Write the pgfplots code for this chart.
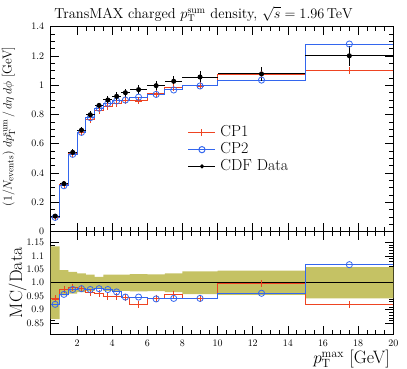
\documentclass[border=0pt]{standalone}
\usepackage{pgfplots}
\usepackage{pgfplotstable}
\pgfplotsset{compat=1.18}
\definecolor{cpred}{RGB}{238,68,34}
\definecolor{cpblue}{RGB}{51,102,238}
\definecolor{bandc}{RGB}{197,194,100}

\pgfplotstableread{
x     ex    d      ed     c1      c2      r1     r2
0.75  0.25  0.105  0.014  0.0987  0.0966  0.940  0.920
1.25  0.25  0.327  0.015  0.3188  0.3129  0.975  0.957
1.75  0.25  0.541  0.022  0.5323  0.5275  0.984  0.975
2.25  0.25  0.693  0.024  0.6778  0.6778  0.978  0.978
2.75  0.25  0.798  0.024  0.7685  0.7781  0.963  0.975
3.25  0.25  0.862  0.019  0.8284  0.8430  0.961  0.978
3.75  0.25  0.899  0.027  0.8540  0.8765  0.950  0.975
4.25  0.25  0.924  0.028  0.8778  0.8926  0.950  0.966
4.75  0.25  0.949  0.028  0.8987  0.8987  0.947  0.947
5.5   0.5   0.970  0.031  0.8924  0.9186  0.920  0.947
6.5   0.5   0.997  0.031  0.9402  0.9372  0.943  0.940
7.5   0.5   1.027  0.036  0.9839  0.9674  0.958  0.942
9     1     1.056  0.044  0.9948  0.9948  0.942  0.942
12.5  2.5   1.077  0.048  1.0748  1.0350  0.998  0.961
17.5  2.5   1.201  0.070  1.1037  1.2815  0.919  1.067
}\datatab

\pgfplotsset{rivet/.style={
  width=342.5bp, scale only axis,
  xmin=0.5, xmax=20,
  tick align=inside,
  major tick length=8bp, minor tick length=4bp,
  xtick={2,4,...,20}, minor x tick num=3,
  axis line style={line width=0.6bp},
  every tick/.style={black, line width=0.5bp},
  tick label style={font=\fontsize{10}{12}\selectfont},
  yticklabel style={xshift=-3bp},
  xticklabel style={yshift=-3bp},
}}

\begin{document}
\begin{tikzpicture}
\useasboundingbox (-50.75bp,-35bp) rectangle (356.25bp,334bp);
% ---------------- ratio panel
\begin{axis}[rivet,
  at={(0,0)}, anchor=south west,
  height=102.5bp,
  ymin=0.81, ymax=1.19,
  ytick={0.85,0.9,0.95,1.0,1.05,1.1,1.15},
  yticklabels={0.85,0.9,0.95,1.0,1.05,1.1,1.15},
  minor y tick num=4,
  xlabel={$p_{\mathrm{T}}^{\mathrm{max}}$ [GeV]},
  xlabel style={font=\fontsize{18}{20}\selectfont, at={(1,-0.29)}, anchor=base east},
  ylabel={MC/Data},
  ylabel style={font=\fontsize{18}{20}\selectfont, at={(-0.097,0.5)}, anchor=center},
]
\addplot[fill=bandc, draw=none, forget plot] coordinates {
(0.5,1.135)(1,1.135)(1,1.047)(1.5,1.047)(1.5,1.04)(2,1.04)(2,1.035)(2.5,1.035)(2.5,1.03)(3,1.03)(3,1.022)(3.5,1.022)(3.5,1.03)(4,1.03)(4.5,1.03)(5,1.03)(5,1.032)(6,1.032)(6,1.031)(7,1.031)(7,1.035)(8,1.035)(8,1.042)(10,1.042)(10,1.045)(15,1.045)(15,1.058)(20,1.058)
(20,0.942)(15,0.942)(15,0.955)(10,0.955)(10,0.958)(8,0.958)(8,0.965)(7,0.965)(7,0.969)(6,0.969)(6,0.968)(5,0.968)(5,0.97)(4.5,0.97)(4,0.97)(3.5,0.97)(3.5,0.978)(3,0.978)(3,0.97)(2.5,0.97)(2.5,0.965)(2,0.965)(2,0.96)(1.5,0.96)(1.5,0.953)(1,0.953)(1,0.865)(0.5,0.865)} -- cycle;
\addplot[black, line width=0.6bp, forget plot] coordinates {(0.5,1)(20,1)};
\addplot[cpred, line width=1bp, const plot mark left, forget plot] coordinates {
(0.5,0.940)(1,0.975)(1.5,0.984)(2,0.978)(2.5,0.963)(3,0.961)(3.5,0.950)(4,0.950)(4.5,0.947)(5,0.920)(6,0.943)(7,0.958)(8,0.942)(10,0.998)(15,0.919)(20,0.919)};
\addplot[cpblue, line width=1bp, const plot mark left, forget plot] coordinates {
(0.5,0.920)(1,0.957)(1.5,0.975)(2,0.978)(2.5,0.975)(3,0.978)(3.5,0.975)(4,0.966)(4.5,0.947)(5,0.947)(6,0.940)(7,0.942)(8,0.942)(10,0.961)(15,1.067)(20,1.067)};
\addplot[only marks, cpred, mark=+, mark size=3.5bp, line width=0.8bp, forget plot] table[x=x, y=r1] {\datatab};
\addplot[only marks, cpblue, mark=o, mark size=3.1bp, mark options={fill=white}, line width=0.8bp, forget plot] table[x=x, y=r2] {\datatab};
\end{axis}
% ---------------- main panel
\begin{axis}[rivet,
  at={(0,102.5bp)}, anchor=south west,
  height=204.8bp,
  ymin=0, ymax=1.4,
  ytick={0,0.2,...,1.4},
  minor y tick num=3,
  xticklabel=\empty,
  title={TransMAX charged $p_{\mathrm{T}}^{\mathrm{sum}}$ density, $\sqrt{s} = 1.96\,\mathrm{TeV}$},
  title style={font=\fontsize{14.5}{17}\selectfont, at={(0,1)}, anchor=base west, yshift=2.5bp},
  ylabel={$(1/N_{\mathrm{events}})\; dp_{\mathrm{T}}^{\mathrm{sum}}\,/\,d\eta\, d\phi$ [GeV]},
  ylabel style={font=\fontsize{13}{15}\selectfont, at={(-0.1234,0.513)}, anchor=center},
  legend style={at={(0.4,0.52)}, anchor=north west, draw=none, fill=none,
    font=\fontsize{16}{16}\selectfont, row sep=1.2bp, column sep=4bp,
    inner sep=0pt, nodes={inner sep=0.5bp, text height=11bp, text depth=3.5bp},
    cells={anchor=west}},
  legend image code/.code={\draw[mark repeat=2, mark phase=2, #1] plot coordinates {(0bp,0bp)(13.5bp,0bp)(27bp,0bp)};},
]
\addplot[cpred, line width=1bp, const plot mark left, forget plot] coordinates {
(0.5,0.0987)(1,0.3188)(1.5,0.5323)(2,0.6778)(2.5,0.7685)(3,0.8284)(3.5,0.8540)(4,0.8778)(4.5,0.8987)(5,0.8924)(6,0.9402)(7,0.9839)(8,0.9948)(10,1.0748)(15,1.1037)(20,1.1037)};
\addplot[cpblue, line width=1bp, const plot mark left, forget plot] coordinates {
(0.5,0.0966)(1,0.3129)(1.5,0.5275)(2,0.6778)(2.5,0.7781)(3,0.8430)(3.5,0.8765)(4,0.8926)(4.5,0.8987)(5,0.9186)(6,0.9372)(7,0.9674)(8,0.9948)(10,1.0350)(15,1.2815)(20,1.2815)};
\addplot[only marks, cpred, mark=+, mark size=3.5bp, line width=0.8bp, forget plot] table[x=x, y=c1] {\datatab};
\addplot[only marks, cpblue, mark=o, mark size=3.1bp, mark options={fill=white}, line width=0.8bp, forget plot] table[x=x, y=c2] {\datatab};
\addplot[only marks, black, mark=*, mark size=2bp, line width=1bp, forget plot,
  error bars/.cd, x dir=both, x explicit, y dir=both, y explicit, error mark=none,
  error bar style={line width=1bp}]
  table[x=x, y=d, x error=ex, y error=ed] {\datatab};
\addlegendimage{cpred, line width=1bp, mark=+, mark size=3.5bp}
\addlegendentry{CP1}
\addlegendimage{cpblue, line width=1bp, mark=o, mark size=3.1bp, mark options={fill=white}}
\addlegendentry{CP2}
\addlegendimage{black, line width=1bp, mark=*, mark size=1.5bp}
\addlegendentry{CDF Data}
\end{axis}
\end{tikzpicture}
\end{document}
